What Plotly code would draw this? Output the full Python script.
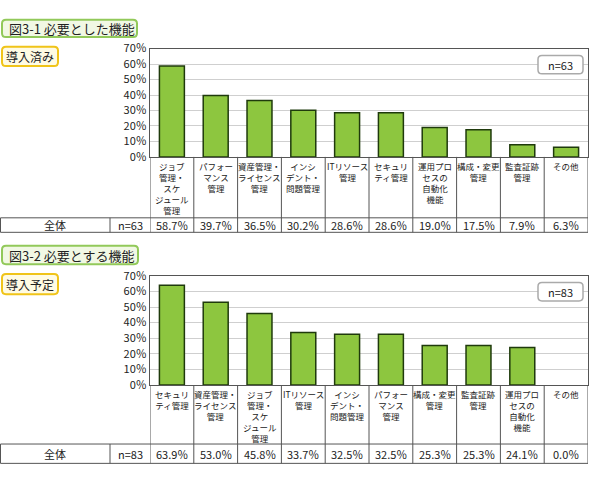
import plotly.graph_objects as go

# ---------------- data ----------------
titles = ["図3-1 必要とした機能", "図3-2 必要とする機能"]
subtitles = ["導入済み", "導入予定"]
n_labels = ["n=63", "n=83"]
row_label = "全体"

cats1 = ["ジョブ<br>管理・<br>スケ<br>ジュール<br>管理", "パフォー<br>マンス<br>管理",
         "資産管理・<br>ライセンス<br>管理", "インシ<br>デント・<br>問題管理",
         "ITリソース<br>管理", "セキュリ<br>ティ管理", "運用プロ<br>セスの<br>自動化<br>機能",
         "構成・変更<br>管理", "監査証跡<br>管理", "その他"]
vals1 = [58.7, 39.7, 36.5, 30.2, 28.6, 28.6, 19.0, 17.5, 7.9, 6.3]

cats2 = ["セキュリ<br>ティ管理", "資産管理・<br>ライセンス<br>管理",
         "ジョブ<br>管理・<br>スケ<br>ジュール<br>管理", "ITリソース<br>管理",
         "インシ<br>デント・<br>問題管理", "パフォー<br>マンス<br>管理",
         "構成・変更<br>管理", "監査証跡<br>管理", "運用プロ<br>セスの<br>自動化<br>機能", "その他"]
vals2 = [63.9, 53.0, 45.8, 33.7, 32.5, 32.5, 25.3, 25.3, 24.1, 0.0]

y_ticks = [0, 10, 20, 30, 40, 50, 60, 70]
y_ticktext = [f"{v}％" for v in y_ticks]

# ---------------- layout helpers ----------------
W, H = 590, 481
FONT = "Noto Sans CJK JP"
TXT = "#222222"


def px(x):
    return x / W


def py(y):
    return 1 - y / H


def rrect(x0, y0, x1, y1, r=4):
    def P(x, y):
        return f"{px(x):.5f},{py(y):.5f}"
    return (f"M {P(x0 + r, y0)} L {P(x1 - r, y0)} Q {P(x1, y0)} {P(x1, y0 + r)} "
            f"L {P(x1, y1 - r)} Q {P(x1, y1)} {P(x1 - r, y1)} "
            f"L {P(x0 + r, y1)} Q {P(x0, y1)} {P(x0, y1 - r)} "
            f"L {P(x0, y0 + r)} Q {P(x0, y0)} {P(x0 + r, y0)} Z")


panels = [
    dict(cats=cats1, vals=vals1, title=titles[0], sub=subtitles[0], n=n_labels[0],
         tbox=(2, 11, 137, 29), sbox=(2, 39, 58, 59), plot=(41, 153), row=(216, 231),
         xa="x", ya="y", xk="xaxis", yk="yaxis"),
    dict(cats=cats2, vals=vals2, title=titles[1], sub=subtitles[1], n=n_labels[1],
         tbox=(2, 245, 138, 264), sbox=(2, 274, 58, 295), plot=(276, 389), row=(450, 470),
         xa="x2", ya="y2", xk="xaxis2", yk="yaxis2"),
]

PL, PR = 150, 588

fig = go.Figure()
shapes = []
annotations = []
layout_axes = {}

for p in panels:
    fig.add_trace(go.Bar(
        x=p["cats"], y=p["vals"], xaxis=p["xa"], yaxis=p["ya"],
        marker=dict(color="#8dc63f",
                    line=dict(color="#1f3a0c", width=[1.5 if v > 0 else 0 for v in p["vals"]])),
        width=0.57, showlegend=False, hoverinfo="skip",
    ))
    top, bot = p["plot"]
    layout_axes[p["xk"]] = dict(
        domain=[px(PL), px(PR)], anchor=p["ya"], type="category",
        categoryorder="array", categoryarray=p["cats"],
        range=[-0.5, 9.5], showticklabels=False, ticks="",
        showline=True, linecolor="#555555", linewidth=1, mirror=True,
        showgrid=False, zeroline=False, fixedrange=True,
    )
    layout_axes[p["yk"]] = dict(
        domain=[py(bot), py(top)], anchor=p["xa"], range=[0, 70],
        tickvals=y_ticks, ticktext=y_ticktext, ticks="",
        tickfont=dict(family=FONT, size=11, color=TXT),
        showline=True, linecolor="#555555", linewidth=1, mirror=True,
        showgrid=True, gridcolor="#cfcfcf", gridwidth=1, zeroline=False,
        fixedrange=True,
    )

    # title box
    x0, y0, x1, y1 = p["tbox"]
    shapes.append(dict(type="path", path=rrect(x0, y0, x1, y1, 4), xref="paper", yref="paper",
                       line=dict(color="#92c95a", width=2), fillcolor="#f1f8e4", layer="above"))
    annotations.append(dict(x=px(x0 + 5), y=py((y0 + y1) / 2), xref="paper", yref="paper",
                            text=p["title"], showarrow=False, xanchor="left", yanchor="middle",
                            font=dict(family=FONT, size=13, color=TXT)))
    # sub box
    x0, y0, x1, y1 = p["sbox"]
    shapes.append(dict(type="path", path=rrect(x0, y0, x1, y1, 4), xref="paper", yref="paper",
                       line=dict(color="#f0c419", width=2), fillcolor="#fffbe3", layer="above"))
    annotations.append(dict(x=px((x0 + x1) / 2), y=py((y0 + y1) / 2), xref="paper", yref="paper",
                            text=p["sub"], showarrow=False, xanchor="center", yanchor="middle",
                            font=dict(family=FONT, size=12, color=TXT)))

    # n box
    nx0, ny0, nx1, ny1 = 538, top + 7, 583, top + 26
    shapes.append(dict(type="path", path=rrect(nx0, ny0, nx1, ny1, 4), xref="paper", yref="paper",
                       line=dict(color="#aaaaaa", width=1.5), fillcolor="#ffffff", layer="above"))
    annotations.append(dict(x=px((nx0 + nx1) / 2), y=py((ny0 + ny1) / 2), xref="paper", yref="paper",
                            text=p["n"], showarrow=False, xanchor="center", yanchor="middle",
                            font=dict(family=FONT, size=11, color=TXT)))

    rtop, rbot = p["row"]
    # category labels
    for c in p["cats"]:
        annotations.append(dict(x=c, y=py(bot + 1), xref=p["xa"], yref="paper",
                                text=c, showarrow=False, xanchor="center", yanchor="top",
                                font=dict(family=FONT, size=8.5, color=TXT)))
    # column dividers in label area and row
    for i in range(11):
        shapes.append(dict(type="line", xref=p["xa"], yref="paper", x0=i - 0.5, x1=i - 0.5,
                           y0=py(bot), y1=py(rbot), line=dict(color="#555555", width=1)))
    # row lines
    for yy in (rtop, rbot):
        shapes.append(dict(type="line", xref="paper", yref="paper", x0=px(0.5), x1=px(PR),
                           y0=py(yy), y1=py(yy), line=dict(color="#555555", width=1)))
    for xx in (0.5, 110):
        shapes.append(dict(type="line", xref="paper", yref="paper", x0=px(xx), x1=px(xx),
                           y0=py(rtop), y1=py(rbot), line=dict(color="#555555", width=1)))
    ymid = py((rtop + rbot) / 2)
    annotations.append(dict(x=px(55), y=ymid, xref="paper", yref="paper", text=row_label,
                            showarrow=False, xanchor="center", yanchor="middle",
                            font=dict(family=FONT, size=11, color=TXT)))
    annotations.append(dict(x=px(130), y=ymid, xref="paper", yref="paper", text=p["n"],
                            showarrow=False, xanchor="center", yanchor="middle",
                            font=dict(family=FONT, size=11, color=TXT)))
    for c, v in zip(p["cats"], p["vals"]):
        annotations.append(dict(x=c, y=ymid, xref=p["xa"], yref="paper", text=f"{v:.1f}％",
                                showarrow=False, xanchor="center", yanchor="middle",
                                font=dict(family=FONT, size=11, color=TXT)))

fig.update_layout(
    width=W, height=H, margin=dict(l=0, r=0, t=0, b=0),
    paper_bgcolor="#ffffff", plot_bgcolor="#ffffff",
    bargap=0.43, shapes=shapes, annotations=annotations,
    font=dict(family=FONT, color=TXT), **layout_axes,
)

fig.write_html(
    "out.html",
    config={"displayModeBar": False},
    post_script=("document.documentElement.style.margin='0';document.body.style.margin='0';"
                 "document.documentElement.style.overflow='hidden';document.body.style.overflow='hidden';"),
)
